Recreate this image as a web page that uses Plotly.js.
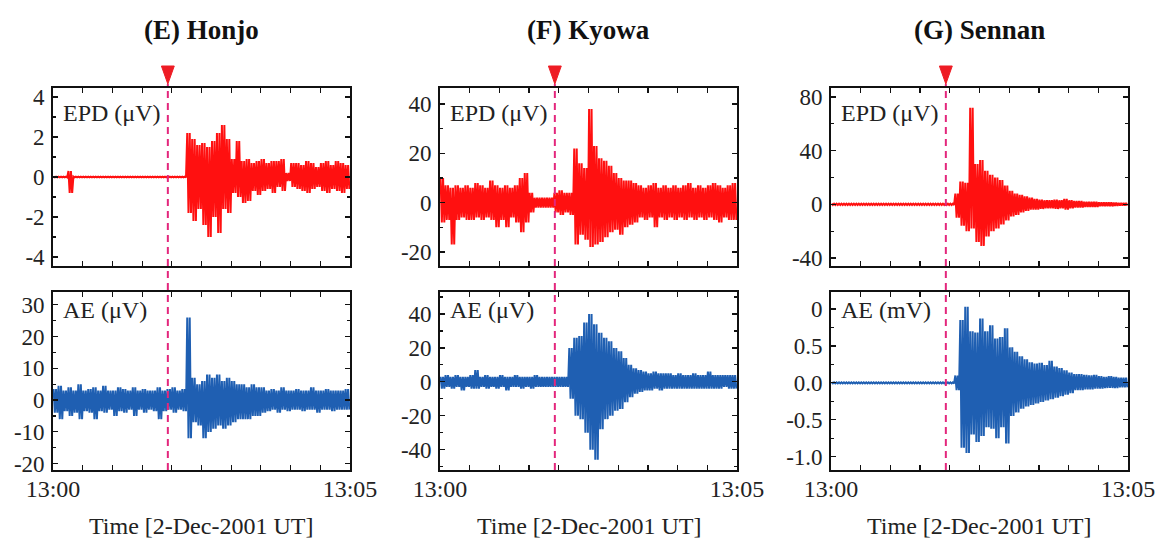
<!DOCTYPE html>
<html>
<head>
<meta charset="utf-8">
<script src="https://cdn.plot.ly/plotly-3.0.1.min.js"></script>
<style>html,body{margin:0;padding:0;background:#fff;}#chart{width:1168px;height:541px;}</style>
</head>
<body>
<div id="chart"></div>
<script>
// ---------- DATA (5-second bins, 13:00:00 - 13:05:00) ----------
const BIN_SECONDS = 5;
const EVENT_T = 116;                       // seconds after 13:00 (red triangle / dashed line)
const xTickLabels = ['13:00', '13:05'];
const stationTitles = ['(E) Honjo', '(F) Kyowa', '(G) Sennan'];
const channelLabels = ['EPD (μV)', 'AE (μV)', 'EPD (μV)', 'AE (μV)', 'EPD (μV)', 'AE (mV)'];
const xAxisTitle = 'Time [2-Dec-2001 UT]';

// (E) Honjo EPD (μV): max / min per bin
const honjoEpdHi = [0.02,0.02,0.02,0.3,0.02,0.02,0.02,0.02,0.02,0.02,
  0.02,0.02,0.02,0.02,0.02,0.02,0.02,0.02,0.02,0.02,
  0.02,0.02,0.02,0.02,0.02,0.02,0.02,
  2.2,1.9,1.6,1.7,1.5,1.8,2.2,2.6,1.9,
  0.9,1.8,0.8,0.9,0.7,0.8,0.9,0.7,0.8,0.8,
  0.9,0.2,0.7,0.7,0.6,0.8,0.7,0.5,0.7,0.8,
  0.6,0.8,0.7,0.6];
const honjoEpdLo = [-0.02,-0.02,-0.02,-0.8,-0.02,-0.02,-0.02,-0.02,-0.02,-0.02,
  -0.02,-0.02,-0.02,-0.02,-0.02,-0.02,-0.02,-0.02,-0.02,-0.02,
  -0.02,-0.02,-0.02,-0.02,-0.02,-0.02,-0.02,
  -1.8,-2.2,-1.6,-2.4,-3.0,-2.0,-2.8,-1.6,-1.8,
  -0.8,-1.0,-1.3,-1.2,-0.7,-0.9,-0.7,-0.6,-0.8,-0.5,
  -0.7,-0.2,-0.5,-0.6,-0.7,-0.8,-0.6,-0.5,-0.7,-0.8,
  -0.6,-0.7,-0.8,-0.6];
// (E) Honjo AE (μV)
const honjoAeHi = [3.5,4.5,3,4,3,5,3,3.5,4,3,
  4.5,3,3,4,3.5,3,4,3,3.5,3,
  3,4,3,3.5,4,3,3.5,
  26,7,5,6,8,7,8,6,7,6,5,5,4,5,4,4,
  3,3.5,3,4,3,3,3.5,3,3,4,3,3,3.5,3,3,3,3.5];
const honjoAeLo = [-4,-6,-3.5,-5,-4,-6,-3.5,-4,-6,-3.5,
  -4,-3,-5,-3.5,-4,-3,-5,-3,-4,-3,
  -3.5,-6,-3.5,-3,-4,-3,-3.5,
  -12,-7,-8,-12,-10,-9,-8,-9,-8,-7,-6,-6,-6,-5,-5,-4,
  -3.5,-3,-4,-3,-3.5,-3,-3,-3.5,-3,-3,-4,-3,-3,-3.5,-3,-3,-3];
// (F) Kyowa EPD (μV)
const kyowaEpdHi = [10,7,6,7,6,7,6,8,7,6,
  9,7,6,7,6,7,10,12,4,
  2,2,2,2,
  4,5,4,4,
  22,16,14,38,23,18,17,15,12,10,9,9,8,
  7,6,7,8,6,7,6,7,6,7,8,6,7,6,7,8,7,6,7,8];
const kyowaEpdLo = [-8,-7,-17,-7,-6,-7,-7,-6,-7,-6,
  -7,-10,-7,-10,-6,-8,-12,-8,-4,
  -2,-2,-2,-2,
  -4,-5,-4,-5,
  -17,-13,-15,-18,-17,-16,-14,-12,-11,-13,-10,-9,-8,
  -6,-7,-6,-10,-6,-7,-6,-7,-6,-7,-6,-7,-6,-7,-6,-7,-8,-6,-7,-7];
// (F) Kyowa AE (μV)
const kyowaAeHi = [3,4,3,4,3,3,4,7,3,4,
  3,3,4,3,3,4,3,3,3,4,
  3,3,3,3,3,3,
  20,
  26,27,35,40,34,29,26,24,20,18,14,10,8,7,
  6,5,6,5,5,5,4,5,4,4,5,4,4,6,4,4,4,4,4];
const kyowaAeLo = [-4,-3,-4,-3,-5,-3,-4,-4,-3,-4,
  -3,-4,-3,-5,-3,-3,-4,-3,-4,-3,
  -3,-3,-3,-3,-3,-3,
  -10,
  -20,-22,-30,-40,-46,-28,-22,-20,-17,-16,-12,-9,-7,-6,
  -5,-5,-4,-5,-4,-4,-4,-4,-4,-4,-4,-4,-4,-4,-4,-4,-3,-4,-4];
// (G) Sennan EPD (μV)
const sennanEpdHi = [0.5,0.5,0.5,0.5,0.5,0.5,0.5,0.5,0.5,0.5,
  0.5,0.5,0.5,0.5,0.5,0.5,0.5,0.5,0.5,0.5,
  0.5,0.5,0.5,0.5,0.5,
  8,
  17,16,72,30,33,25,22,20,18,14,10,8,7,6,5,4,3.5,
  3,3,3.5,3,4,3,2.5,2.5,2,2,2,1.5,1.5,1.5,1.2,1,1];
const sennanEpdLo = [-0.5,-0.5,-0.5,-0.5,-0.5,-0.5,-0.5,-0.5,-0.5,-0.5,
  -0.5,-0.5,-0.5,-0.5,-0.5,-0.5,-0.5,-0.5,-0.5,-0.5,
  -0.5,-0.5,-0.5,-0.5,-0.5,
  -10,
  -16,-20,-18,-28,-31,-24,-20,-18,-15,-12,-9,-8,-6,-5,-4,-4,-3.5,
  -3,-3,-3.5,-3,-4,-3,-2.5,-2.5,-2,-2,-2,-1.5,-1.5,-1.5,-1.2,-1,-1];
// (G) Sennan AE (mV)
const sennanAeHi = [0.008,0.008,0.008,0.008,0.008,0.008,0.008,0.008,0.008,0.008,
  0.008,0.008,0.008,0.008,0.008,0.008,0.008,0.008,0.008,0.008,
  0.008,0.008,0.008,0.008,0.008,
  0.1,
  0.85,1.03,0.7,0.68,0.87,0.7,0.78,0.6,0.62,0.74,
  0.48,0.42,0.36,0.32,0.28,0.26,0.27,0.24,0.3,0.22,0.2,0.17,0.14,
  0.12,0.12,0.11,0.1,0.11,0.09,0.08,0.09,0.08,0.07,0.07];
const sennanAeLo = [-0.008,-0.008,-0.008,-0.008,-0.008,-0.008,-0.008,-0.008,-0.008,-0.008,
  -0.008,-0.008,-0.008,-0.008,-0.008,-0.008,-0.008,-0.008,-0.008,-0.008,
  -0.008,-0.008,-0.008,-0.008,-0.008,
  -0.1,
  -0.88,-0.95,-0.7,-0.8,-0.72,-0.6,-0.62,-0.75,-0.6,-0.82,
  -0.45,-0.4,-0.35,-0.32,-0.3,-0.28,-0.26,-0.24,-0.22,-0.2,-0.18,-0.16,-0.14,
  -0.1,-0.1,-0.09,-0.09,-0.08,-0.08,-0.07,-0.07,-0.07,-0.06,-0.06];

// y-axis ticks per panel
const yTicksHonjoEpd = [-4,-2,0,2,4];
const yTicksHonjoAe = [-20,-10,0,10,20,30];
const yTicksKyowaEpd = [-20,0,20,40];
const yTicksKyowaAe = [-40,-20,0,20,40];
const yTicksSennanEpd = [-40,0,40,80];
const yTicksSennanAe = [-1.0,-0.5,0,0.5,1.0];
const yTickTextSennanAe = ['-1.0','-0.5','0.0','0.5','0'];

// ---------- STYLE / LAYOUT ----------
const W = 1168, H = 541;
const SERIF = "'Liberation Serif', 'Times New Roman', Times, serif";
const RED = '#ff1010';
const BLUE = '#1f5fb2';
const colDom = [[53/W, 350/W], [440/W, 737/W], [831/W, 1128/W]];
const rowDom = [[1-266/H, 1-88/H], [1-470/H, 1-292/H]];

const panels = [
  {col:0,row:0,hi:honjoEpdHi,lo:honjoEpdLo,range:[-4.45,4.45],ticks:yTicksHonjoEpd,minor:1,color:RED},
  {col:0,row:1,hi:honjoAeHi,lo:honjoAeLo,range:[-22,34],ticks:yTicksHonjoAe,minor:5,color:BLUE},
  {col:1,row:0,hi:kyowaEpdHi,lo:kyowaEpdLo,range:[-25.7,46.5],ticks:yTicksKyowaEpd,minor:10,color:RED},
  {col:1,row:1,hi:kyowaAeHi,lo:kyowaAeLo,range:[-52,53],ticks:yTicksKyowaAe,minor:10,color:BLUE},
  {col:2,row:0,hi:sennanEpdHi,lo:sennanEpdLo,range:[-46,86.7],ticks:yTicksSennanEpd,minor:20,color:RED},
  {col:2,row:1,hi:sennanAeHi,lo:sennanAeLo,range:[-1.18,1.23],ticks:yTicksSennanAe,ticktext:yTickTextSennanAe,minor:0.25,color:BLUE}
];

const traces = [];
const layout = {
  width: W, height: H, margin: {l:0,r:0,t:0,b:0},
  paper_bgcolor: '#fff', plot_bgcolor: '#fff', showlegend: false,
  annotations: [], shapes: []
};

const totalSeconds = 300;
const xTickVals = [];
for (let s = 0; s <= totalSeconds; s += 30) xTickVals.push(s);
const xTickText = xTickVals.map(v => v === 0 ? xTickLabels[0] : (v === totalSeconds ? xTickLabels[1] : ''));

// min/max rendering: within each bin the trace swings between the bin's max and min
const SUB = [0.12, 0.37, 0.62, 0.87];
panels.forEach((p, k) => {
  const n = k + 1;
  const xa = n === 1 ? 'x' : 'x' + n;
  const ya = n === 1 ? 'y' : 'y' + n;
  const zx = [], zy = [];
  p.hi.forEach((v, i) => {
    SUB.forEach((f, j) => {
      zx.push((i + f) * BIN_SECONDS);
      zy.push(j % 2 === 0 ? v : p.lo[i]);
    });
  });
  traces.push({x: zx, y: zy, xaxis: xa, yaxis: ya, mode: 'lines',
    line: {width: 2, color: p.color}, hoverinfo: 'skip'});

  const bottom = p.row === 1;
  layout['xaxis' + (n === 1 ? '' : n)] = {
    domain: colDom[p.col], anchor: ya, range: [0, totalSeconds], automargin: false,
    tickmode: 'array', tickvals: xTickVals, ticktext: xTickText, showticklabels: bottom,
    ticks: 'inside', ticklen: 5, tickwidth: 1.2, tickcolor: '#111',
    showline: true, linecolor: '#111', linewidth: 1.8, mirror: 'ticks',
    showgrid: false, zeroline: false, fixedrange: true, ticklabelstandoff: -4,
    tickfont: {family: SERIF, size: 24, color: '#222'}
  };
  layout['yaxis' + (n === 1 ? '' : n)] = {
    domain: rowDom[p.row], anchor: xa, range: p.range, automargin: false,
    tickmode: 'array', tickvals: p.ticks, ticktext: p.ticktext || p.ticks.map(String),
    ticks: 'inside', ticklen: 5, tickwidth: 1.2, tickcolor: '#111',
    minor: {dtick: p.minor, tick0: 0, ticks: 'inside', ticklen: 3, tickcolor: '#111', showgrid: false},
    showline: true, linecolor: '#111', linewidth: 1.8, mirror: 'ticks',
    showgrid: false, zeroline: false, fixedrange: true, ticklabelstandoff: 2,
    tickfont: {family: SERIF, size: 23, color: '#222'}
  };
  // channel label inside panel
  layout.annotations.push({
    xref: 'paper', yref: 'paper', x: colDom[p.col][0] + 8/W,
    y: p.row === 0 ? 1 - 113/H : 1 - 310/H, xanchor: 'left', yanchor: 'middle',
    text: channelLabels[k], showarrow: false,
    font: {family: SERIF, size: 24, color: '#222'}
  });
});

[0,1,2].forEach(c => {
  const mid = (colDom[c][0] + colDom[c][1]) / 2;
  layout.annotations.push({xref: 'paper', yref: 'paper', x: mid, y: 1 - 30/H,
    xanchor: 'center', yanchor: 'middle', text: '<b>' + stationTitles[c] + '</b>', showarrow: false,
    font: {family: SERIF, size: 27, color: '#111'}});
  layout.annotations.push({xref: 'paper', yref: 'paper', x: mid, y: 1 - 526/H,
    xanchor: 'center', yanchor: 'middle', text: xAxisTitle, showarrow: false,
    font: {family: SERIF, size: 24, color: '#222'}});
  const xa = c === 0 ? 'x' : 'x' + (c*2 + 1);
  // dashed event line across both panels
  layout.shapes.push({type: 'line', xref: xa, yref: 'paper', x0: EVENT_T, x1: EVENT_T,
    y0: 1 - 470/H, y1: 1 - 84/H, line: {color: '#e3267c', width: 2, dash: '7px,5px'}});
  // red triangle marker
  const hw = 6.5;
  const yt = 1 - 66/H, yb = 1 - 84/H;
  layout.shapes.push({type: 'path', xref: xa, yref: 'paper',
    path: `M ${EVENT_T-hw},${yt} L ${EVENT_T+hw},${yt} L ${EVENT_T},${yb} Z`,
    fillcolor: '#ee1c24', line: {color: '#ee1c24', width: 1}});
});

Plotly.newPlot('chart', traces, layout, {staticPlot: true, displayModeBar: false});
</script>
</body>
</html>
